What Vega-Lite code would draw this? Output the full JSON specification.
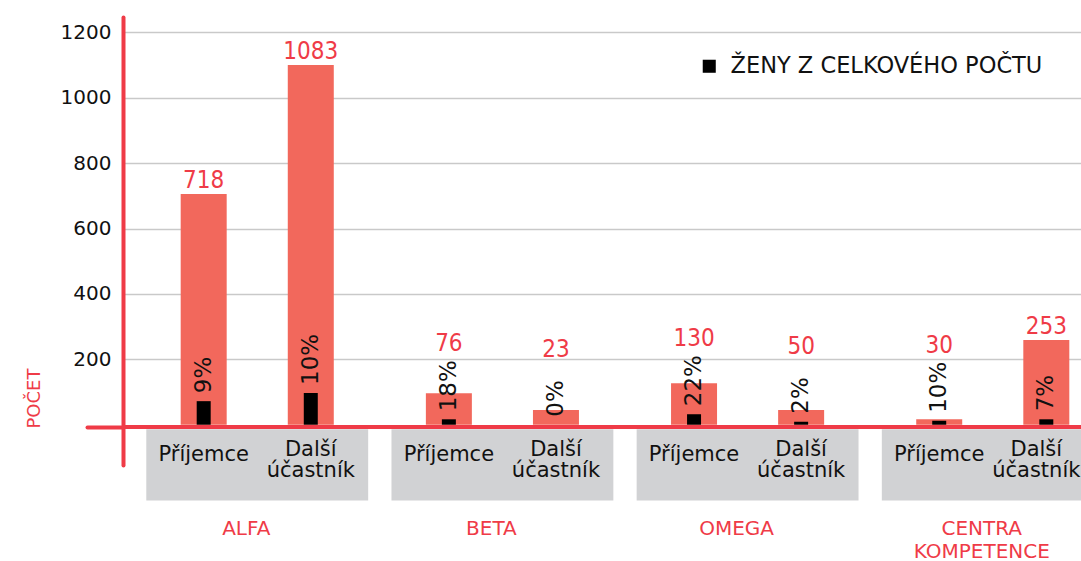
{
  "$schema": "https://vega.github.io/schema/vega-lite/v6.json",
  "width": 958,
  "height": 448,
  "autosize": {"type": "none"},
  "padding": {"left": 123, "top": 17, "right": 0, "bottom": 96},
  "background": "white",
  "config": {"view": {"stroke": null}, "font": "DejaVu Sans"},
  "data": {
    "values": [
      {"group": "ALFA", "role": "Příjemce", "count": 706, "label": 718, "women": 72, "pct": "9%"},
      {"group": "ALFA", "role": "Další účastník", "count": 1100, "label": 1083, "women": 97, "pct": "10%"},
      {"group": "BETA", "role": "Příjemce", "count": 96, "label": 76, "women": 16.5, "pct": "18%"},
      {"group": "BETA", "role": "Další účastník", "count": 45, "label": 23, "women": 0, "pct": "0%"},
      {"group": "OMEGA", "role": "Příjemce", "count": 127, "label": 130, "women": 32, "pct": "22%"},
      {"group": "OMEGA", "role": "Další účastník", "count": 45, "label": 50, "women": 9, "pct": "2%"},
      {"group": "CENTRA KOMPETENCE", "role": "Příjemce", "count": 17, "label": 30, "women": 12, "pct": "10%"},
      {"group": "CENTRA KOMPETENCE", "role": "Další účastník", "count": 259, "label": 253, "women": 16.5, "pct": "7%"}
    ]
  },
  "layer": [
    {
      "transform": [{"filter": "datum.role === 'Příjemce'"}],
      "mark": {"type": "bar", "color": "#d1d2d4"},
      "encoding": {
        "x": {"field": "group", "type": "nominal", "sort": ["ALFA", "BETA", "OMEGA", "CENTRA KOMPETENCE"], "scale": {"paddingInner": 0.095, "paddingOuter": 0.095, "range": [0, 1004]}, "axis": null},
        "y": {"datum": -14, "type": "quantitative", "scale": {"domain": [-123.3, 1247.2], "nice": false, "zero": false}},
        "y2": {"datum": -232}
      }
    },
    {
      "mark": {"type": "bar", "color": "#f2685c", "size": 46},
      "encoding": {
        "x": {"field": "group", "type": "nominal", "sort": ["ALFA", "BETA", "OMEGA", "CENTRA KOMPETENCE"], "scale": {"paddingInner": 0.095, "paddingOuter": 0.095, "range": [0, 1004]}, "axis": null},
        "xOffset": {"field": "role", "type": "nominal", "sort": ["Příjemce", "Další účastník"], "scale": {"paddingInner": 0, "paddingOuter": 0.036}},
        "y": {
          "field": "count", "type": "quantitative",
          "scale": {"domain": [-123.3, 1247.2], "nice": false, "zero": false},
          "axis": {
            "title": "POČET", "titleColor": "#ef3b47", "titleFont": "DejaVu Sans", "titleFontSize": 18, "titleFontWeight": "normal",
            "titleAngle": 270, "titleAlign": "center", "titleBaseline": "alphabetic", "titleX": -84, "titleY": 381,
            "values": [-7, 200, 400, 600, 800, 1000, 1200], "format": "d",
            "labelExpr": "datum.value < 0 ? '' : datum.label",
            "labelFont": "DejaVu Sans", "labelFontSize": 20, "labelColor": "#111111", "labelPadding": -24,
            "domainColor": "#ef3b47", "domainWidth": 4, "domainCap": "round",
            "tickSize": 36, "tickWidth": 4, "tickCap": "round",
            "tickColor": {"condition": {"test": "datum.value < 0", "value": "#ef3b47"}, "value": "transparent"},
            "grid": true, "gridColor": "#c9c9c9", "gridWidth": 1.6
          }
        }
      }
    },
    {
      "mark": {"type": "bar", "size": 14},
      "encoding": {
        "x": {"field": "group", "type": "nominal", "sort": ["ALFA", "BETA", "OMEGA", "CENTRA KOMPETENCE"], "scale": {"paddingInner": 0.095, "paddingOuter": 0.095, "range": [0, 1004]}, "axis": null},
        "xOffset": {"field": "role", "type": "nominal", "sort": ["Příjemce", "Další účastník"], "scale": {"paddingInner": 0, "paddingOuter": 0.036}},
        "y": {"field": "women", "type": "quantitative", "scale": {"domain": [-123.3, 1247.2], "nice": false, "zero": false}},
        "color": {
          "datum": "ŽENY Z CELKOVÉHO POČTU", "type": "nominal",
          "scale": {"range": ["#000000"]},
          "legend": {
            "orient": "none", "legendX": 575, "legendY": 38, "title": null,
            "symbolType": "square", "symbolSize": 170, "symbolStrokeWidth": 0,
            "labelFont": "DejaVu Sans", "labelFontSize": 22.5, "labelColor": "#111111", "labelOffset": 10, "labelLimit": 0, "padding": 0
          }
        }
      }
    },
    {
      "mark": {"type": "rule", "color": "#ef3b47", "strokeWidth": 4},
      "encoding": {
        "y": {"datum": -7, "type": "quantitative", "scale": {"domain": [-123.3, 1247.2], "nice": false, "zero": false}}
      }
    },
    {
      "mark": {"type": "text", "angle": 270, "align": "left", "baseline": "middle", "dx": 8, "fontSize": 23, "font": "DejaVu Sans", "color": "#111111"},
      "encoding": {
        "x": {"field": "group", "type": "nominal", "sort": ["ALFA", "BETA", "OMEGA", "CENTRA KOMPETENCE"], "scale": {"paddingInner": 0.095, "paddingOuter": 0.095, "range": [0, 1004]}, "axis": null},
        "xOffset": {"field": "role", "type": "nominal", "sort": ["Příjemce", "Další účastník"], "scale": {"paddingInner": 0, "paddingOuter": 0.036}},
        "y": {"field": "women", "type": "quantitative", "scale": {"domain": [-123.3, 1247.2], "nice": false, "zero": false}},
        "text": {"field": "pct"}
      }
    },
    {
      "transform": [{"filter": "datum.count > 200"}],
      "mark": {"type": "text", "align": "center", "baseline": "alphabetic", "dy": -6, "fontSize": 24, "font": "'DejaVu Sans Condensed', 'Liberation Sans', sans-serif", "color": "#ef3b47"},
      "encoding": {
        "x": {"field": "group", "type": "nominal", "sort": ["ALFA", "BETA", "OMEGA", "CENTRA KOMPETENCE"], "scale": {"paddingInner": 0.095, "paddingOuter": 0.095, "range": [0, 1004]}, "axis": null},
        "xOffset": {"field": "role", "type": "nominal", "sort": ["Příjemce", "Další účastník"], "scale": {"paddingInner": 0, "paddingOuter": 0.036}},
        "y": {"field": "count", "type": "quantitative", "scale": {"domain": [-123.3, 1247.2], "nice": false, "zero": false}},
        "text": {"field": "label", "type": "quantitative", "format": "d"}
      }
    },
    {
      "transform": [{"filter": "datum.count <= 200"}],
      "mark": {"type": "text", "align": "center", "baseline": "alphabetic", "dy": -68, "fontSize": 24, "font": "'DejaVu Sans Condensed', 'Liberation Sans', sans-serif", "color": "#ef3b47"},
      "encoding": {
        "x": {"field": "group", "type": "nominal", "sort": ["ALFA", "BETA", "OMEGA", "CENTRA KOMPETENCE"], "scale": {"paddingInner": 0.095, "paddingOuter": 0.095, "range": [0, 1004]}, "axis": null},
        "xOffset": {"field": "role", "type": "nominal", "sort": ["Příjemce", "Další účastník"], "scale": {"paddingInner": 0, "paddingOuter": 0.036}},
        "y": {"field": "women", "type": "quantitative", "scale": {"domain": [-123.3, 1247.2], "nice": false, "zero": false}},
        "text": {"field": "label", "type": "quantitative", "format": "d"}
      }
    },
    {
      "transform": [{"filter": "datum.role === 'Příjemce'"}],
      "mark": {"type": "text", "align": "center", "baseline": "alphabetic", "fontSize": 21, "font": "DejaVu Sans", "color": "#111111"},
      "encoding": {
        "x": {"field": "group", "type": "nominal", "sort": ["ALFA", "BETA", "OMEGA", "CENTRA KOMPETENCE"], "scale": {"paddingInner": 0.095, "paddingOuter": 0.095, "range": [0, 1004]}, "axis": null},
        "xOffset": {"field": "role", "type": "nominal", "sort": ["Příjemce", "Další účastník"], "scale": {"paddingInner": 0, "paddingOuter": 0.036}},
        "y": {"datum": -111, "type": "quantitative", "scale": {"domain": [-123.3, 1247.2], "nice": false, "zero": false}},
        "text": {"field": "role"}
      }
    },
    {
      "transform": [{"filter": "datum.role === 'Další účastník' && datum.group !== 'CENTRA KOMPETENCE'"}],
      "mark": {"type": "text", "align": "center", "baseline": "alphabetic", "lineBreak": " ", "lineHeight": 21, "fontSize": 21, "font": "DejaVu Sans", "color": "#111111"},
      "encoding": {
        "x": {"field": "group", "type": "nominal", "sort": ["ALFA", "BETA", "OMEGA", "CENTRA KOMPETENCE"], "scale": {"paddingInner": 0.095, "paddingOuter": 0.095, "range": [0, 1004]}, "axis": null},
        "xOffset": {"field": "role", "type": "nominal", "sort": ["Příjemce", "Další účastník"], "scale": {"paddingInner": 0, "paddingOuter": 0.036}},
        "y": {"datum": -96, "type": "quantitative", "scale": {"domain": [-123.3, 1247.2], "nice": false, "zero": false}},
        "text": {"field": "role"}
      }
    },
    {
      "transform": [{"filter": "datum.role === 'Další účastník' && datum.group === 'CENTRA KOMPETENCE'"}],
      "mark": {"type": "text", "align": "center", "baseline": "alphabetic", "dx": -10, "lineBreak": " ", "lineHeight": 21, "fontSize": 21, "font": "DejaVu Sans", "color": "#111111"},
      "encoding": {
        "x": {"field": "group", "type": "nominal", "sort": ["ALFA", "BETA", "OMEGA", "CENTRA KOMPETENCE"], "scale": {"paddingInner": 0.095, "paddingOuter": 0.095, "range": [0, 1004]}, "axis": null},
        "xOffset": {"field": "role", "type": "nominal", "sort": ["Příjemce", "Další účastník"], "scale": {"paddingInner": 0, "paddingOuter": 0.036}},
        "y": {"datum": -96, "type": "quantitative", "scale": {"domain": [-123.3, 1247.2], "nice": false, "zero": false}},
        "text": {"field": "role"}
      }
    },
    {
      "transform": [{"filter": "datum.role === 'Příjemce'"}],
      "mark": {"type": "text", "align": "center", "baseline": "alphabetic", "dx": -11, "lineBreak": " ", "lineHeight": 23, "fontSize": 20, "font": "DejaVu Sans", "color": "#ef3b47"},
      "encoding": {
        "x": {"field": "group", "type": "nominal", "sort": ["ALFA", "BETA", "OMEGA", "CENTRA KOMPETENCE"], "scale": {"paddingInner": 0.095, "paddingOuter": 0.095, "range": [0, 1004]}, "axis": null},
        "y": {"datum": -337, "type": "quantitative", "scale": {"domain": [-123.3, 1247.2], "nice": false, "zero": false}},
        "text": {"field": "group"}
      }
    }
  ]
}
